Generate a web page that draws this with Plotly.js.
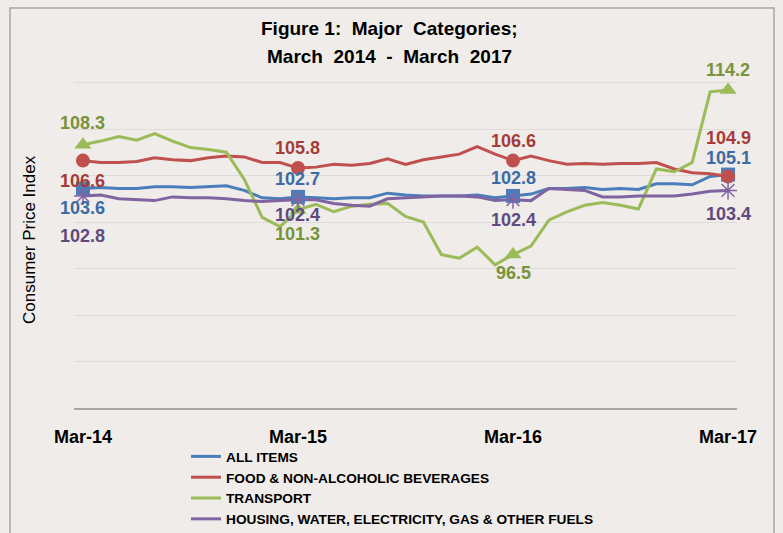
<!DOCTYPE html>
<html>
<head>
<meta charset="utf-8">
<script src="https://cdn.plot.ly/plotly-3.0.1.min.js"></script>
<style>
html,body{margin:0;padding:0;background:#efece9;}
#chart{width:783px;height:533px;}
</style>
</head>
<body>
<div id="chart"></div>
<script>
// ---- data ----
const categories = ["Mar-14","Apr-14","May-14","Jun-14","Jul-14","Aug-14","Sep-14","Oct-14","Nov-14","Dec-14","Jan-15","Feb-15",
  "Mar-15","Apr-15","May-15","Jun-15","Jul-15","Aug-15","Sep-15","Oct-15","Nov-15","Dec-15","Jan-16","Feb-16",
  "Mar-16","Apr-16","May-16","Jun-16","Jul-16","Aug-16","Sep-16","Oct-16","Nov-16","Dec-16","Jan-17","Feb-17","Mar-17"];
const tickLabels = ["Mar-14","Mar-15","Mar-16","Mar-17"];
const seriesNames = ["ALL ITEMS","FOOD & NON-ALCOHOLIC BEVERAGES","TRANSPORT","HOUSING, WATER, ELECTRICITY, GAS & OTHER FUELS"];
const allItems = [103.6,103.7,103.6,103.6,103.8,103.8,103.7,103.8,103.9,103.4,102.6,102.5,
  102.7,102.6,102.5,102.6,102.6,103.1,102.9,102.8,102.8,102.8,102.9,102.6,
  102.8,103.0,103.6,103.6,103.7,103.5,103.6,103.5,104.1,104.1,104.0,104.9,105.1];
const food = [106.6,106.4,106.4,106.5,106.9,106.7,106.6,106.9,107.1,107.0,106.4,106.4,
  105.8,105.9,106.2,106.1,106.3,106.8,106.2,106.7,107.0,107.3,108.1,107.3,
  106.6,107.1,106.6,106.2,106.3,106.2,106.3,106.3,106.4,105.7,105.3,105.2,104.9];
const transport = [108.3,108.7,109.2,108.8,109.5,108.7,108.0,107.8,107.5,104.6,100.5,99.5,
  101.3,101.9,101.1,101.7,101.9,102.0,100.6,100.0,96.5,96.1,97.3,95.4,
  96.5,97.4,100.2,101.1,101.8,102.1,101.8,101.4,105.7,105.4,106.4,114.0,114.2];
const housing = [102.8,102.9,102.5,102.4,102.3,102.7,102.6,102.6,102.5,102.3,102.2,102.3,
  102.4,102.4,102.0,101.8,101.7,102.5,102.6,102.7,102.8,102.8,102.7,102.3,
  102.4,102.3,103.6,103.5,103.4,102.7,102.7,102.8,102.8,102.8,103.0,103.3,103.4];
const titleLines = ["Figure 1:&nbsp; Major&nbsp; Categories;", "March&nbsp; 2014&nbsp; -&nbsp; March&nbsp; 2017"];
const yTitle = "Consumer Price Index";

// ---- styles / positions ----
const W = 783, H = 533;
const M = {l:74, r:46, t:36, b:125, autoexpand: false};
const PW = W - M.l - M.r, PH = H - M.t - M.b;
const px2x = p => (p - M.l) / PW;
const px2y = p => (H - M.b - p) / PH;

const series = [allItems, food, transport, housing];
const lineColors = ["#4a7ebb","#c0504d","#9bbb59","#8064a2"];
const labelColors = ["#3b6ba5","#a53c3a","#77933c","#5f4a7f"];
const symbols = ["square","circle","triangle-up","asterisk-open"];
const markerIdx = [0,12,24,36];
// label pixel offsets (positive = below point) per series per marked point
const labelOffsets = [
  [19,-18,-18,-17],
  [20,-20,-20,-38],
  [-22,24,18,-20],
  [40,15,20,24]
];

const FONT = "'Liberation Sans', Arial, sans-serif";
const traces = [];
series.forEach((s,k) => {
  traces.push({
    x: categories, y: s, name: seriesNames[k], type: "scatter", mode: "lines",
    line: {color: lineColors[k], width: 3}, hoverinfo: "skip"
  });
});
series.forEach((s,k) => {
  traces.push({
    x: markerIdx.map(i => categories[i]), y: markerIdx.map(i => s[i]),
    type: "scatter", mode: "markers", showlegend: false, hoverinfo: "skip",
    marker: k === 3
      ? {symbol: symbols[k], size: 15, color: lineColors[k], line: {color: lineColors[k], width: 1.5}}
      : {symbol: symbols[k], size: k === 2 ? 15 : 14, color: lineColors[k], line: {width: 0}}
  });
});

const annotations = [];
series.forEach((s,k) => {
  markerIdx.forEach((i,j) => {
    annotations.push({
      x: categories[i], y: s[i], xref: "x", yref: "y", showarrow: false,
      text: s[i].toFixed(1), yshift: -labelOffsets[k][j],
      font: {family: FONT, size: 18, color: labelColors[k], weight: "bold"}
    });
  });
});
[28, 57].forEach((py, n) => {
  annotations.push({
    text: titleLines[n], xref: "paper", yref: "paper",
    x: px2x(389), y: px2y(py), showarrow: false, xanchor: "center", yanchor: "middle",
    font: {family: FONT, size: 19, color: "#000", weight: "bold"}
  });
});
annotations.push({
  text: yTitle, xref: "paper", yref: "paper",
  x: px2x(30), y: px2y(240), showarrow: false, textangle: -90,
  xanchor: "center", yanchor: "middle",
  font: {family: FONT, size: 17, color: "#000"}
});

const layout = {
  width: W, height: H, margin: M,
  paper_bgcolor: "#efece9", plot_bgcolor: "#efece9",
  showlegend: true,
  legend: {
    xref: "container", yref: "container", x: 186/W, y: 1 - 441/H,
    xanchor: "left", yanchor: "top", orientation: "v",
    bgcolor: "rgba(0,0,0,0)", itemwidth: 30, tracegroupgap: 0,
    font: {family: FONT, size: 13.7, color: "#000", weight: "bold"}
  },
  xaxis: {
    type: "category", range: [-0.5, 36.5], tickmode: "array",
    tickvals: tickLabels, ticktext: tickLabels, tickangle: 0, automargin: false,
    showgrid: false, zeroline: false, showline: true, linecolor: "#a6a6a6", linewidth: 1.5,
    ticks: "outside", ticklen: 12, tickcolor: "rgba(0,0,0,0)",
    tickfont: {family: FONT, size: 18, color: "#000", weight: "bold"}
  },
  yaxis: {
    range: [80, 120], dtick: 5, showticklabels: false, ticks: "", automargin: false,
    showgrid: true, gridcolor: "#dedbd8", gridwidth: 1, zeroline: false, showline: false
  },
  annotations: annotations,
  shapes: [{
    type: "rect", xref: "paper", yref: "paper",
    x0: px2x(10), x1: px2x(774), y0: px2y(545), y1: px2y(8),
    line: {color: "#a6a6a6", width: 1.5}, fillcolor: "rgba(0,0,0,0)", layer: "below"
  }],
  hovermode: false
};

Plotly.newPlot("chart", traces, layout, {staticPlot: true, displayModeBar: false});
</script>
</body>
</html>
